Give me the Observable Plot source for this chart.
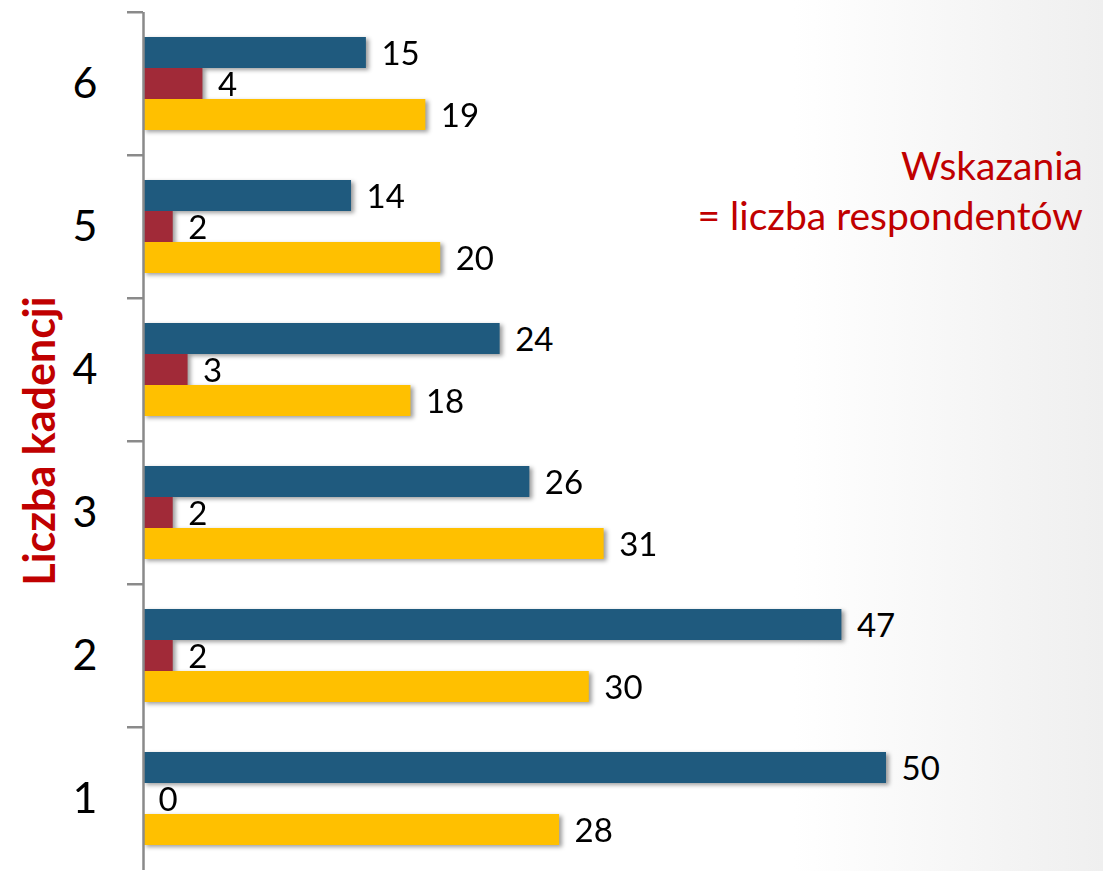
<!DOCTYPE html>
<html>
<head>
<meta charset="utf-8">
<script src="https://cdn.jsdelivr.net/npm/d3@7"></script>
<script src="https://cdn.jsdelivr.net/npm/@observablehq/plot@0.6"></script>
<style>
  html, body { margin: 0; padding: 0; background: #fff; }
  #wrap {
    position: relative; width: 1103px; height: 871px; overflow: hidden;
    background: linear-gradient(to right, #ffffff 0%, #ffffff 72%, #efefef 100%);
    font-family: Lato, "Open Sans", sans-serif;
  }
  #chart { position: absolute; left: 0; top: 0; }
  #ytitle {
    position: absolute; left: 38px; top: 441px;
    transform: translate(-50%, -50%) rotate(-90deg);
    white-space: nowrap; font-weight: 700; font-size: 43px; color: #C00000;
  }
  #note {
    position: absolute; right: 20px; top: 140px; text-align: right;
    font-size: 39px; line-height: 50px; color: #C00000; white-space: nowrap;
  }
  g[aria-label="bar"] { filter: drop-shadow(3px 2px 2px rgba(0,0,0,0.38)); }
</style>
</head>
<body>
<div id="wrap">
  <div id="chart"></div>
  <div id="ytitle">Liczba kadencji</div>
  <div id="note">Wskazania<br>= liczba respondentów</div>
</div>
<script>
// Categories (top to bottom) and series
const categories = ["6", "5", "4", "3", "2", "1"];
const seriesNames = ["Seria 1", "Seria 2", "Seria 3"];
const seriesColors = ["#1F5A7E", "#A12A38", "#FFC000"];
const values1 = [15, 14, 24, 26, 47, 50];
const values2 = [4, 2, 3, 2, 2, 0];
const values3 = [19, 20, 18, 31, 30, 28];

const allValues = [values1, values2, values3];
const data = [];
categories.forEach((c, i) => {
  seriesNames.forEach((s, j) => {
    data.push({cat: c, series: s, value: allValues[j][i]});
  });
});

const chart = Plot.plot({
  width: 1103,
  height: 871,
  marginLeft: 143,
  marginRight: 217,
  marginTop: 10,
  marginBottom: 0,
  style: {background: "transparent", fontFamily: "Lato, 'Open Sans', sans-serif", color: "#000"},
  x: {domain: [0, 50], axis: null},
  y: {domain: seriesNames, paddingInner: 0, paddingOuter: 0.742, axis: null},
  fy: {domain: categories, padding: 0, label: null},
  color: {domain: seriesNames, range: seriesColors},
  marks: [
    Plot.barX(data, {fy: "cat", y: "series", x: "value", fill: "series"}),
    Plot.text(data, {
      fy: "cat", y: "series", x: "value", text: d => String(d.value),
      textAnchor: "start", dx: 15, dy: 1, fontSize: 33, fill: "#000"
    }),
    Plot.ruleX([0], {stroke: "#8a8a8a", strokeWidth: 2.5}),
    Plot.axisFy({anchor: "left", tickSize: 0, tickPadding: 46, fontSize: 43, label: null, fill: "#000"}),
    Plot.axisFy({anchor: "left", tickSize: 16, tickFormat: () => "", dy: -71.75, stroke: "#8a8a8a", strokeWidth: 2.5, label: null})
  ]
});
document.getElementById("chart").appendChild(chart);
</script>
</body>
</html>
